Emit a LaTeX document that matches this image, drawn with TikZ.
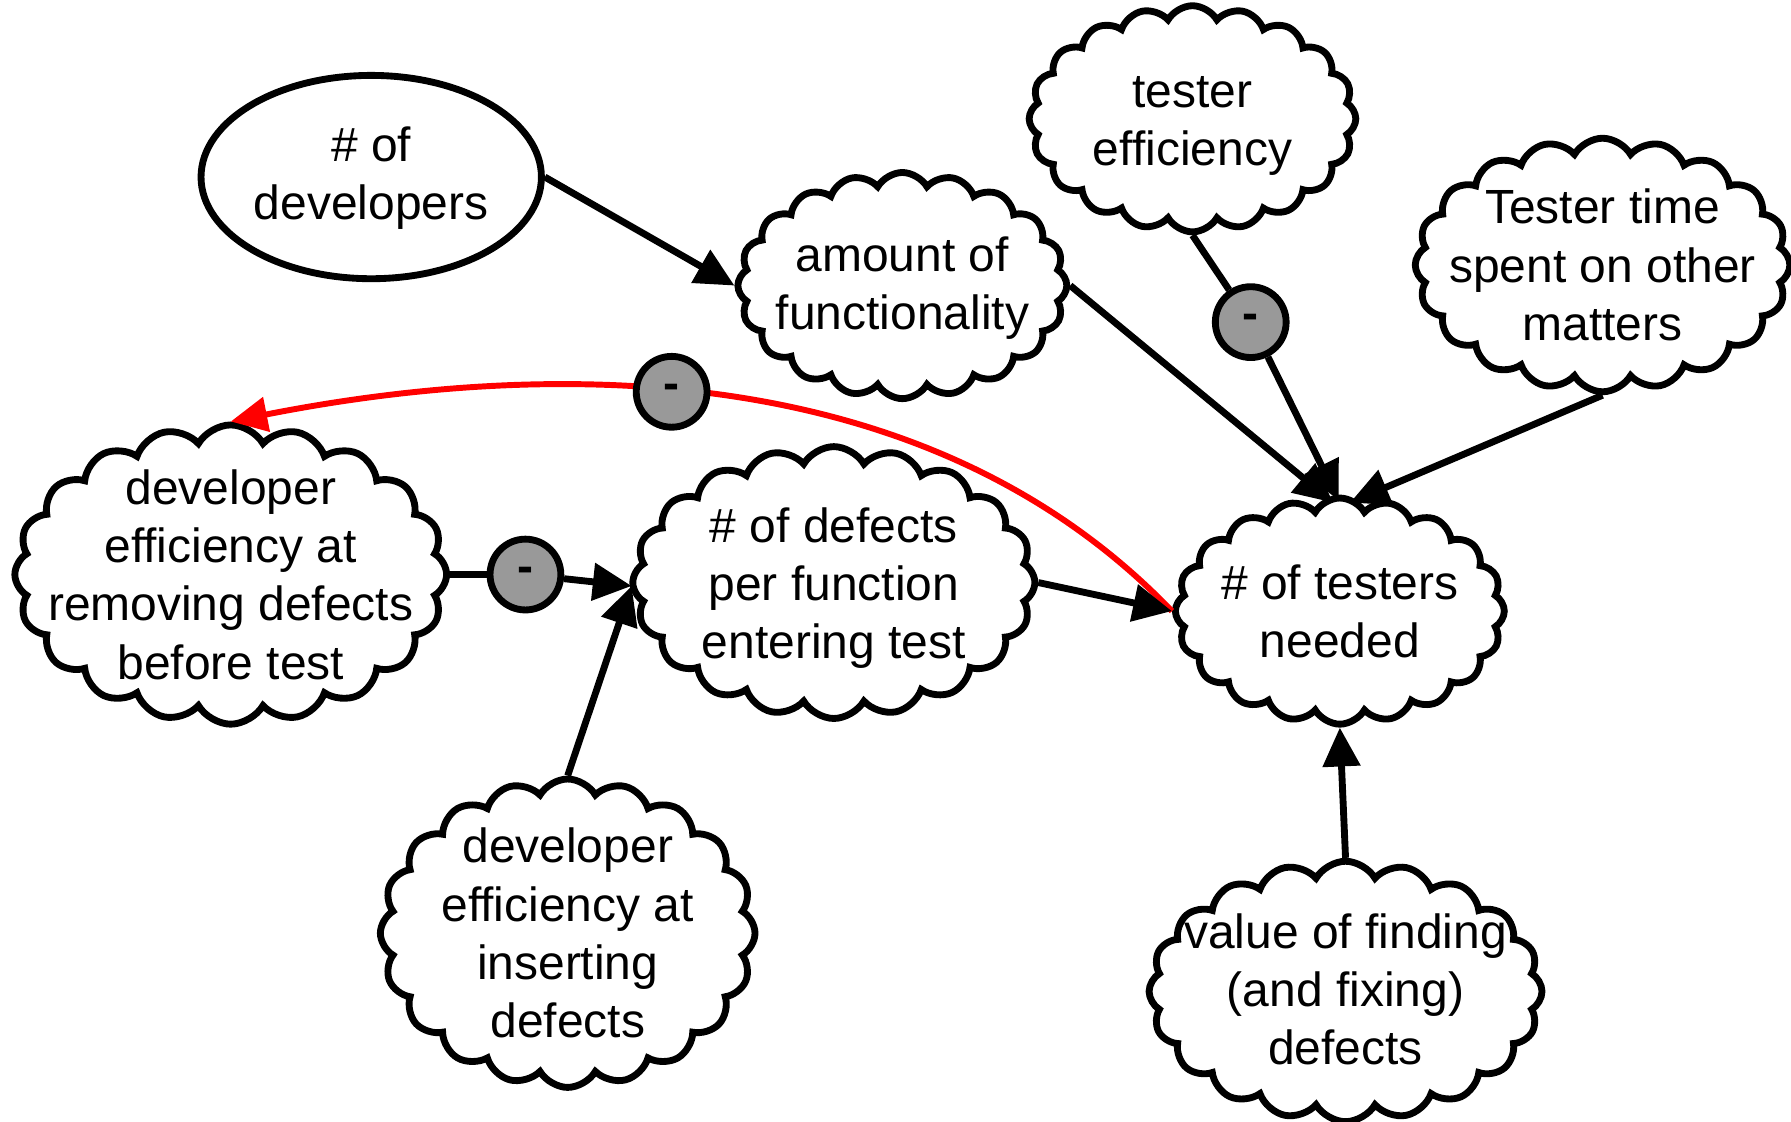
\documentclass[tikz,border=0pt]{standalone}
\usepackage{fontspec}
\setmainfont{Liberation Sans}
\usetikzlibrary{shapes.symbols,shapes.geometric,arrows.meta,calc}
\definecolor{mgray}{RGB}{153,153,153}
\tikzset{
  cl/.style={cloud, cloud puffs=20, cloud puff arc=120, cloud ignores aspect, draw, line width=3pt, fill=white, inner sep=0pt},
  txt/.style={align=center, font=\fontsize{21}{25.5}\selectfont, inner sep=0pt},
  minus/.style={circle, draw, line width=3pt, fill=mgray, minimum size=31pt, inner sep=0pt, font=\bfseries\fontsize{21}{25}\selectfont},
  ln/.style={line width=3pt},
  arr/.style={line width=3pt, -{Triangle[length=17pt,width=16pt]}},
  rarr/.style={line width=2.6pt, red, -{Triangle[length=16pt,width=15pt]}}
}
\begin{document}
\begin{tikzpicture}[x=0.5pt,y=-0.5pt]
\useasboundingbox (0,0) rectangle (1568,982);
% nodes
\node[ellipse, draw, line width=3pt, minimum width=149pt, minimum height=89pt, inner sep=0pt] (devs) at (325,155) {};
\node[txt] (devst) at ($(devs.center)+(0,1)$) {\# of\\developers};

\node[cl, minimum width=144pt, minimum height=99pt] (amount) at (790,250) {};
\node[txt] (amountt) at ($(amount.center)+(0,2)$) {amount of\\functionality};

\node[cl, minimum width=143pt, minimum height=99pt] (teff) at (1044,104) {};
\node[txt] (tefft) at ($(teff.center)+(0,6)$) {tester\\efficiency};

\node[cl, minimum width=164pt, minimum height=111pt] (ttime) at (1403,232) {};
\node[txt] (ttimet) at (ttime.center) {Tester time\\spent on other\\matters};

\node[cl, minimum width=189pt, minimum height=131pt] (rem) at (202,503) {};
\node[txt] (remt) at (rem.center) {developer\\efficiency at\\removing defects\\before test};

\node[cl, minimum width=176pt, minimum height=119pt] (def) at (730,510) {};
\node[txt] (deft) at ($(def.center)+(0,5)$) {\# of defects\\per function\\entering test};

\node[cl, minimum width=144pt, minimum height=99pt] (testers) at (1173,535) {};
\node[txt] (testerst) at (testers.center) {\# of testers\\needed};

\node[cl, minimum width=164pt, minimum height=135pt] (ins) at (497,817) {};
\node[txt] (inst) at (ins.center) {developer\\efficiency at\\inserting\\defects};

\node[cl, minimum width=172pt, minimum height=114pt] (value) at (1178,868) {};
\node[txt] (valuet) at ($(value.center)+(0,-2)$) {value of finding\\(and fixing)\\defects};

% connector end points
\coordinate (tn1) at (1167,440);
\coordinate (tn2) at (1172,438);
\coordinate (tn3) at (1182,440);
\coordinate (dleft) at (553,513);

% red feedback arc
\draw[rarr] (testers.west) .. controls (800,300) and (450,320) .. (rem.north);

% minus circles
\node[minus] (m1) at (1095,282) {-};
\node[minus] (m2) at (588,343) {-};
\node[minus] (m3) at (460,503) {-};

% connectors
\draw[arr] (devs.east) -- (amount.west);
\draw[arr] (amount.east) -- (tn1);
\draw[ln] (teff.south) -- (m1);
\draw[arr] (m1) -- (tn2);
\draw[arr] (ttime.south) -- (tn3);
\draw[arr] (value.north) -- (testers.south);
\draw[arr] (ins.north) -- (dleft);
\draw[ln] (rem.east) -- (m3);
\draw[arr] (m3) -- (dleft);
\draw[arr] (def.east) -- (testers.west);
\end{tikzpicture}
\end{document}
